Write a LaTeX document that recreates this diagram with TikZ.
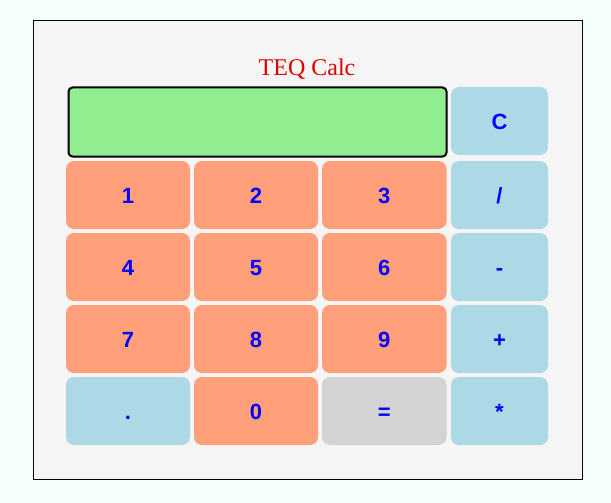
\documentclass[tikz,border=0pt]{standalone}
\usepackage{fontspec}
\setmainfont{Liberation Serif}
\setsansfont{Liberation Sans}
\definecolor{mint}{HTML}{F5FFFA}
\definecolor{panel}{HTML}{F5F5F5}
\definecolor{lgreen}{HTML}{90EE90}
\definecolor{salmon}{HTML}{FFA07A}
\definecolor{lblue}{HTML}{ADD8E6}
\definecolor{lgrey}{HTML}{D3D3D3}
\definecolor{txtblue}{HTML}{0000FF}
\definecolor{titlered}{HTML}{E00000}
\tikzset{
  btn/.style={rounded corners=8pt, draw=none},
  btnlabel/.style={font=\sffamily\bfseries\fontsize{22}{22}\selectfont, text=txtblue, inner sep=0pt, anchor=base},
}
\begin{document}
\begin{tikzpicture}[x=1pt,y=-1pt]
\fill[mint] (0,0) rectangle (611,503);
\useasboundingbox (0,0) rectangle (611,503);
\node[draw=black, line width=1pt, fill=panel, minimum width=549pt, minimum height=458pt, inner sep=0pt, anchor=north west] (frame) at (32.5,20.5) {};
\node[text=titlered, font=\fontsize{24}{24}\selectfont, inner sep=0pt, anchor=base] (title) at (307,75.5) {TEQ Calc};
\node[draw=black, line width=2pt, fill=lgreen, rounded corners=4pt, minimum width=378pt, minimum height=69pt, inner sep=0pt, anchor=north west] (display) at (67.5,86.5) {};
% buttons: name, x0, x1, y0, y1, color, label
\newcommand{\calcbtn}[7]{%
  \fill[btn,#6] (#2,#4) rectangle (#3,#5);
  \node[btnlabel] (#1) at ({(#2+#3)/2},{(#4+#5)/2+8}) {#7};
}
\calcbtn{bC}{451}{548}{87}{155}{lblue}{C}
\calcbtn{b1}{66}{190}{161}{229}{salmon}{1}
\calcbtn{b2}{194}{318}{161}{229}{salmon}{2}
\calcbtn{b3}{322}{446.5}{161}{229}{salmon}{3}
\calcbtn{bdiv}{451}{548}{161}{229}{lblue}{/}
\calcbtn{b4}{66}{190}{233}{301}{salmon}{4}
\calcbtn{b5}{194}{318}{233}{301}{salmon}{5}
\calcbtn{b6}{322}{446.5}{233}{301}{salmon}{6}
\calcbtn{bmin}{451}{548}{233}{301}{lblue}{-}
\calcbtn{b7}{66}{190}{305}{373}{salmon}{7}
\calcbtn{b8}{194}{318}{305}{373}{salmon}{8}
\calcbtn{b9}{322}{446.5}{305}{373}{salmon}{9}
\calcbtn{bplus}{451}{548}{305}{373}{lblue}{+}
\calcbtn{bdot}{66}{190}{377}{445}{lblue}{.}
\calcbtn{b0}{194}{318}{377}{445}{salmon}{0}
\calcbtn{beq}{322}{446.5}{377}{445}{lgrey}{=}
\calcbtn{bmul}{451}{548}{377}{445}{lblue}{*}
\end{tikzpicture}
\end{document}
